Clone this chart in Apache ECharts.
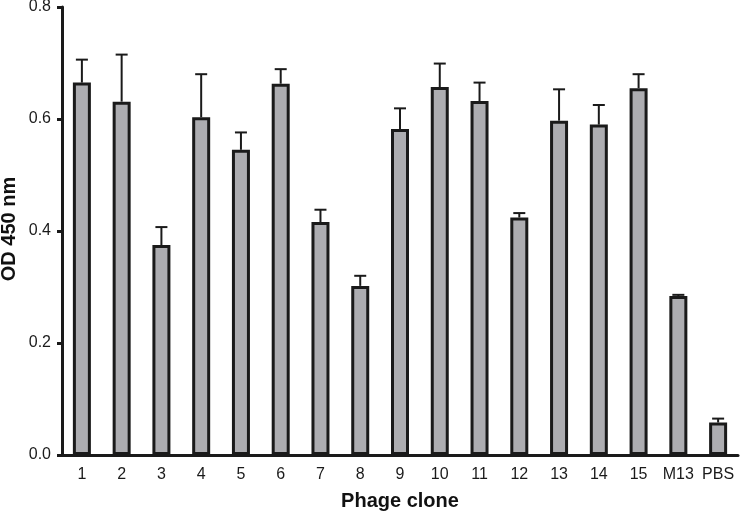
<!DOCTYPE html>
<html>
<head>
<meta charset="utf-8">
<script src="https://cdn.jsdelivr.net/npm/echarts@6/dist/echarts.min.js"></script>
<style>
    html, body { margin: 0; padding: 0; background: #fff; }
    #chart { width: 740px; height: 513px; }
</style>
</head>
<body>
<div id="chart"></div>
<script>
    // 分类
    var clones = ['1', '2', '3', '4', '5', '6', '7', '8', '9', '10', '11', '12', '13', '14', '15', 'M13', 'PBS'];
    // 平均值 OD450
    var odMean = [0.665, 0.631, 0.375, 0.603, 0.545, 0.663, 0.416, 0.302, 0.582, 0.657, 0.632, 0.424, 0.597, 0.590, 0.655, 0.284, 0.058];
    // 误差（向上）
    var odErr = [0.041, 0.084, 0.032, 0.077, 0.031, 0.026, 0.022, 0.018, 0.037, 0.042, 0.033, 0.008, 0.056, 0.035, 0.025, 0.002, 0.007];
    var yTicks = [0, 0.2, 0.4, 0.6, 0.8];

    var chart = echarts.init(document.getElementById('chart'));
    var fontFamily = 'Liberation Sans, Arial, sans-serif';
    var axisFont = { color: '#1a1a1a', fontSize: 16, fontFamily: fontFamily };
    var nameFont = { fontSize: 20, fontWeight: 'bold', color: '#111', fontFamily: fontFamily };

    var option = {
        animation: false,
        grid: { left: 62, right: 2, top: 7, bottom: 58, containLabel: false, outerBoundsMode: 'none' },
        // y轴标题 单独画，位置更好控制
        graphic: [{
            type: 'text',
            x: 9,
            y: 229,
            rotation: Math.PI / 2,
            style: {
                text: 'OD 450 nm',
                fill: '#111',
                font: 'bold 20px Liberation Sans, Arial, sans-serif',
                align: 'center',
                verticalAlign: 'middle'
            }
        }],
        xAxis: {
            type: 'category',
            data: clones,
            name: 'Phage clone',
            nameLocation: 'middle',
            nameGap: 36,
            nameTextStyle: nameFont,
            axisLine: { lineStyle: { color: '#1a1a1a', width: 3 } },
            axisTick: { alignWithLabel: true, length: 5, lineStyle: { color: '#1a1a1a', width: 2 } },
            axisLabel: Object.assign({ margin: 12, interval: 0 }, axisFont)
        },
        yAxis: {
            type: 'value',
            min: yTicks[0],
            max: yTicks[yTicks.length - 1],
            interval: 0.2,
            axisLine: { show: true, lineStyle: { color: '#1a1a1a', width: 3 } },
            axisTick: { show: true, length: 5, lineStyle: { color: '#1a1a1a', width: 3 } },
            splitLine: { show: false },
            axisLabel: Object.assign({ margin: 11, formatter: function (v) { return v.toFixed(1); } }, axisFont)
        },
        series: [
            {
                type: 'custom',
                z: 1,
                data: odMean.map(function (v, i) { return [i, v, v + odErr[i]]; }),
                renderItem: function (params, api) {
                    var base = api.coord([api.value(0), api.value(1)]);
                    var top = api.coord([api.value(0), api.value(2)]);
                    return {
                        type: 'group',
                        children: [
                            { type: 'line', shape: { x1: base[0], y1: base[1], x2: top[0], y2: top[1] }, style: { stroke: '#1a1a1a', lineWidth: 2 } },
                            { type: 'line', shape: { x1: top[0] - 6, y1: top[1], x2: top[0] + 6, y2: top[1] }, style: { stroke: '#1a1a1a', lineWidth: 2 } }
                        ]
                    };
                }
            },
            {
                type: 'bar',
                z: 2,
                data: odMean,
                barWidth: 18,
                itemStyle: { color: '#adadb1', borderColor: '#1a1a1a', borderWidth: 3 }
            }
        ]
    };

    chart.setOption(option);
</script>
</body>
</html>
